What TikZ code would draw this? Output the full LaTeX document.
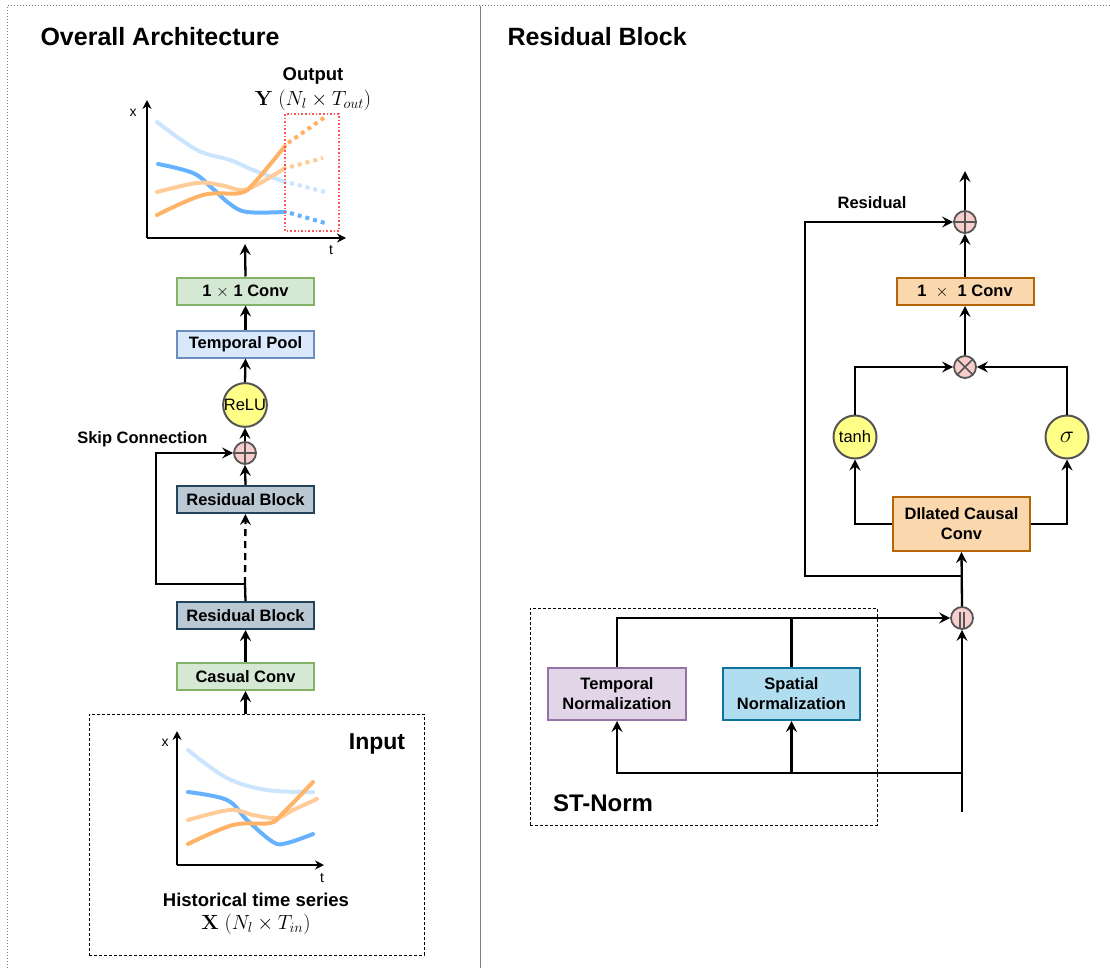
\RequirePackage{fix-cm}
\documentclass[tikz,border=0pt]{standalone}
\usepackage[no-math]{fontspec}
\setmainfont{Liberation Sans}
\usetikzlibrary{arrows.meta}

\definecolor{lblue}{HTML}{CCE5FF}
\definecolor{mblue}{HTML}{66B2FF}
\definecolor{lorange}{HTML}{FFCC99}
\definecolor{morange}{HTML}{FFB366}
\definecolor{gfill}{HTML}{D5E8D4}
\definecolor{gdraw}{HTML}{82B366}
\definecolor{bfill}{HTML}{DAE8FC}
\definecolor{bdraw}{HTML}{6C8EBF}
\definecolor{rfill}{HTML}{BAC8D3}
\definecolor{rdraw}{HTML}{23445D}
\definecolor{ofill}{HTML}{FAD7AC}
\definecolor{odraw}{HTML}{B46504}
\definecolor{pfill}{HTML}{E1D5E7}
\definecolor{pdraw}{HTML}{9673A6}
\definecolor{cfill}{HTML}{B1DDF0}
\definecolor{cdraw}{HTML}{10739E}
\definecolor{yfill}{HTML}{FFFF88}
\definecolor{opfill}{HTML}{F8CECC}
\definecolor{opdraw}{HTML}{555555}
\definecolor{outred}{HTML}{FF5555}

\tikzset{
  x=1pt, y=-1pt,
  arr/.style={line width=2.3pt, -{Stealth[length=11pt,width=11pt,inset=4pt]}},
  conn/.style={line width=2.3pt},
  axarr/.style={line width=1.5pt, -{Stealth[length=9pt,width=9pt,inset=3pt]}},
  blk/.style={rectangle, draw, line width=2pt, minimum width=137pt, minimum height=27pt,
    inner sep=1pt, align=center, font=\bfseries\fontsize{16.5}{20}\selectfont},
  greenbox/.style={blk, fill=gfill, draw=gdraw},
  bluebox/.style={blk, fill=bfill, draw=bdraw},
  resbox/.style={blk, fill=rfill, draw=rdraw},
  orangebox/.style={blk, fill=ofill, draw=odraw},
  purplebox/.style={blk, fill=pfill, draw=pdraw, minimum height=52pt},
  cyanbox/.style={blk, fill=cfill, draw=cdraw, minimum height=52pt},
  actnode/.style={circle, draw=opdraw, line width=2pt, fill=yfill, minimum size=43pt,
    inner sep=0pt, font=\fontsize{16.5}{20}\selectfont},
  opnode/.style={circle, draw=opdraw, line width=1.8pt, fill=opfill, minimum size=22pt, inner sep=0pt},
  plusop/.style={opnode, path picture={
      \draw[opdraw, line width=1.5pt] (path picture bounding box.north) -- (path picture bounding box.south)
        (path picture bounding box.west) -- (path picture bounding box.east);}},
  timesop/.style={opnode, path picture={
      \draw[opdraw, line width=1.5pt] (path picture bounding box.north west) -- (path picture bounding box.south east)
        (path picture bounding box.north east) -- (path picture bounding box.south west);}},
  catop/.style={opnode, path picture={
      \draw[opdraw, line width=1.5pt]
        ([xshift=-2pt,yshift=6pt]path picture bounding box.center) -- ([xshift=-2pt,yshift=-11pt]path picture bounding box.center)
        ([xshift=2pt,yshift=6pt]path picture bounding box.center) -- ([xshift=2pt,yshift=-11pt]path picture bounding box.center);}},
  groupbox/.style={rectangle, draw, dashed, dash pattern=on 3pt off 2pt, line width=0.9pt},
  lbl/.style={font=\bfseries\fontsize{16.5}{20}\selectfont},
  biglbl/.style={font=\bfseries\fontsize{25}{29}\selectfont},
  midlbl/.style={inner sep=0pt, font=\bfseries\fontsize{18.5}{22}\selectfont},
  mathlbl/.style={inner sep=0pt, font=\fontsize{20.5}{24}\selectfont},
  axlbl/.style={font=\fontsize{14}{16}\selectfont},
  series/.style={line width=4pt, line cap=round},
  forecast/.style={line width=4pt, dash pattern=on 4pt off 4pt},
}

\begin{document}
\begin{tikzpicture}
\useasboundingbox (0,0) rectangle (1110,968);

% page frame and panel divider
\draw[gray, dotted, line width=1pt] (7,968) -- (7,6) -- (1110,6);
\draw[gray, line width=0.9pt] (480,6) -- (480,968);

% panel titles
\node[biglbl, anchor=west] (titleL) at (37,37) {Overall Architecture};
\node[biglbl, anchor=west] (titleR) at (504,37) {Residual Block};

% ---------------- Overall architecture ----------------
% forecast chart
\coordinate (oO) at (147,238);
\coordinate (oY) at (147,100);
\coordinate (oX) at (346,238);
\draw[lblue, series] plot[smooth, tension=0.6] coordinates {(157,122) (197,150) (230,160) (253,170) (285,182)};
\draw[mblue, series] plot[smooth, tension=0.6] coordinates {(158,164) (193,173) (212,188) (230,204) (247,212) (285,212)};
\draw[lorange, series] plot[smooth, tension=0.6] coordinates {(157,192) (197,183) (220,185) (243,190) (262,182) (285,168)};
\draw[morange, series] plot[smooth, tension=0.6] coordinates {(157,215) (203,195) (240,193) (255,182) (285,146)};
\draw[lblue, forecast] (290,183) -- (325,192);
\draw[mblue, forecast] (290,213) -- (325,223);
\draw[lorange, forecast] (290,167) -- (323,158);
\draw[morange, forecast] (288,143) -- (325,117);
\draw[axarr] (oO) -- (oY);
\draw[axarr] (oO) -- (oX);
\node[axlbl] (oxl) at (133,113) {x};
\node[axlbl] (otl) at (331,250) {t};
\draw[outred, dotted, line width=1.6pt] (285,114) rectangle (339,231);
\node[midlbl] (outl) at (313,76) {Output};
\node[mathlbl] (outm) at (313,100) {$\mathbf{Y}\;(N_l\times T_{out})$};
\coordinate (chartin) at (245,244);

% main stack
\node[greenbox] (conv1) at (245.5,291) {1 $\times$ 1 Conv};
\node[bluebox] (tpool) at (245.5,344) {Temporal Pool};
\node[actnode] (relu) at (245,405) {ReLU};
\node[plusop] (plusL) at (245,453) {};
\node[resbox] (res2) at (245.5,499.5) {Residual Block};
\node[resbox] (res1) at (245.5,615.5) {Residual Block};
\node[greenbox] (cconv) at (245.5,676.5) {Casual Conv};
\node[groupbox, minimum width=335pt, minimum height=241pt] (inbox) at (256.5,834.5) {};
\node[lbl, anchor=east] (skipl) at (211,439) {Skip Connection};
\coordinate (j1) at (245,584);
\coordinate (skipc) at (156,584);

\draw[arr] (cconv.south |- inbox.north) -- (cconv.south);
\draw[arr] (cconv.north) -- (res1.south);
\draw[conn] (res1.north) -- (j1);
\draw[arr, dashed, dash pattern=on 7pt off 5pt] (j1) -- (res2.south);
\draw[arr] (j1) -- (skipc) |- (plusL.west);
\draw[arr] (res2.north) -- (plusL.south);
\draw[arr] (plusL.north) -- (relu.south);
\draw[arr] (relu.north) -- (tpool.south);
\draw[arr] (tpool.north) -- (conv1.south);
\draw[arr] (conv1.north) -- (chartin);

% input chart
\coordinate (iO) at (177,865);
\coordinate (iY) at (177,731);
\coordinate (iX) at (324,865);
\draw[lblue, series] plot[smooth, tension=0.6] coordinates {(188,750) (227,778) (267,790) (313,792)};
\draw[mblue, series] plot[smooth, tension=0.6] coordinates {(188,792) (227,800) (247,820) (273,842) (287,843) (313,834)};
\draw[lorange, series] plot[smooth, tension=0.6] coordinates {(188,820) (230,810) (253,815) (277,818) (293,810) (317,799)};
\draw[morange, series] plot[smooth, tension=0.6] coordinates {(188,844) (233,825) (270,823) (284,812) (313,782)};
\draw[axarr] (iO) -- (iY);
\draw[axarr] (iO) -- (iX);
\node[axlbl] (ixl) at (165,743) {x};
\node[axlbl] (itl) at (322,878) {t};
\node[font=\bfseries\fontsize{23}{27}\selectfont] (inl) at (377,744) {Input};
\node[midlbl] (histl) at (256,900) {Historical time series};
\node[mathlbl] (histm) at (256,924) {$\mathbf{X}\;(N_l\times T_{in})$};

% ---------------- Residual block ----------------
\node[plusop] (plusR) at (965,222) {};
\coordinate (outtop) at (965,171);
\node[orangebox] (conv1R) at (965,291.5) {1 \ $\times$ \ 1 Conv};
\node[timesop] (timesR) at (965,367) {};
\node[actnode] (tanh) at (855,437) {tanh};
\node[actnode, font=\fontsize{24}{28}\selectfont] (sigm) at (1067,437) {$\sigma$};
\node[orangebox, minimum height=54pt] (dconv) at (961.5,524) {DIlated Causal\\Conv};
\node[catop] (concat) at (962,618) {};
\node[lbl] (resl) at (872,203) {Residual};
\coordinate (rjoin) at (962,576);
\coordinate (rcorner) at (805,576);

\draw[arr] (plusR.north) -- (outtop);
\draw[arr] (conv1R.north) -- (plusR.south);
\draw[arr] (timesR.north) -- (conv1R.south);
\draw[arr] (tanh.north) |- (timesR.west);
\draw[arr] (sigm.north) |- (timesR.east);
\draw[arr] (dconv.west) -| (tanh.south);
\draw[arr] (dconv.east) -| (sigm.south);
\draw[arr] (concat.north) -- (dconv.south);
\draw[arr] (rjoin) -- (rcorner) |- (plusR.west);

% ST-Norm group
\node[groupbox, minimum width=347pt, minimum height=217pt] (stbox) at (703.5,716.5) {};
\node[purplebox, minimum width=138pt] (tnorm) at (617,694) {Temporal\\Normalization};
\node[cyanbox] (snorm) at (791.5,694) {Spatial\\Normalization};
\node[font=\bfseries\fontsize{24}{28}\selectfont] (stl) at (603,803) {ST-Norm};
\coordinate (inR) at (962,812);
\coordinate (split) at (962,773);

\draw[arr] (inR) -- (concat.south);
\draw[arr] (split) -| (tnorm.south);
\draw[arr] (snorm.south |- split) -- (snorm.south);
\draw[arr] (tnorm.north) |- (concat.west);
\draw[conn] (snorm.north) -- (snorm.north |- concat.west);
\end{tikzpicture}
\end{document}
